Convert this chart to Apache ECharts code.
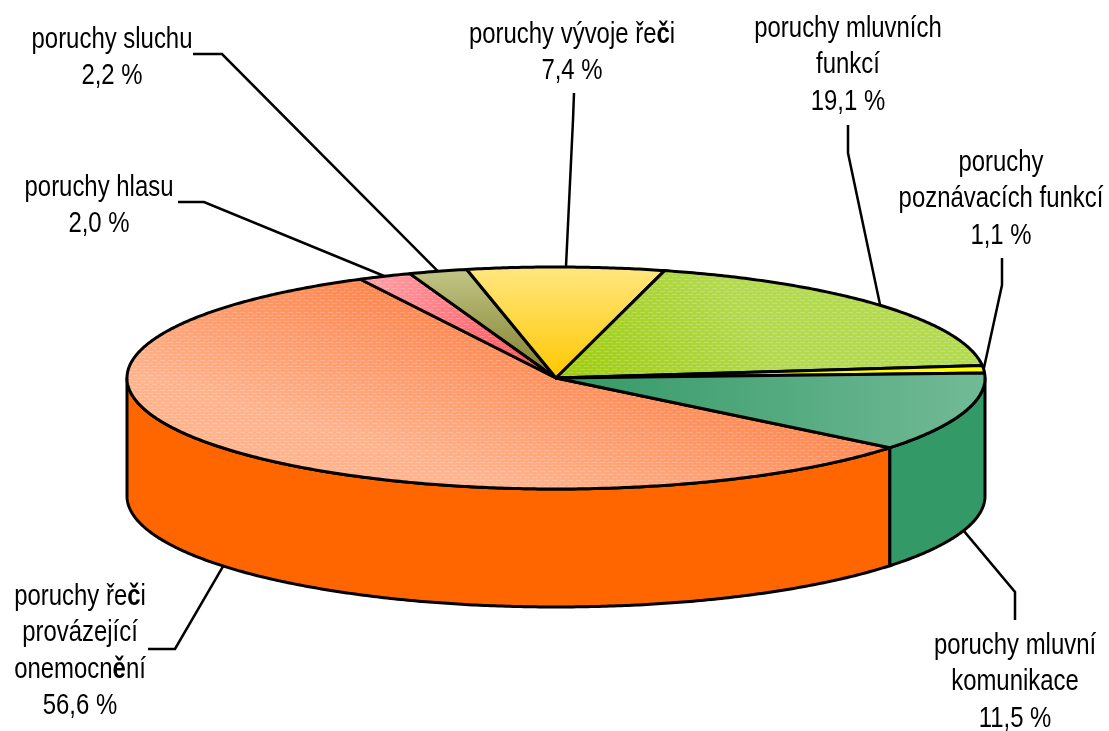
<!DOCTYPE html>
<html>
<head>
<meta charset="utf-8">
<style>
  html, body { margin: 0; background: #fff; }
  #chart { width: 1109px; height: 731px; }
</style>
<script src="https://cdn.jsdelivr.net/npm/echarts@6/dist/echarts.min.js"></script>
</head>
<body>
<div id="chart"></div>
<script>
// values, clockwise from the orange slice
const names = [
  "poruchy řeči\nprovázející\nonemocnění",
  "poruchy hlasu",
  "poruchy sluchu",
  "poruchy vývoje řeči",
  "poruchy mluvních\nfunkcí",
  "poruchy\npoznávacích funkcí",
  "poruchy mluvní\nkomunikace",
];
const values = [56.6, 2.0, 2.2, 7.4, 19.1, 1.1, 11.5];

// top face gradient [colour at start, colour at end], gradient direction in the slice's box, side colour
const topColors = [
  ["#ff7d42", "#ffb48e"],
  ["#ffa3aa", "#ff4a52"],
  ["#c2c585", "#7f7f2c"],
  ["#ffe680", "#ffc800"],
  ["#9fcc0c", "#b4da50"],
  ["#ffff00", "#ffff00"],
  ["#339966", "#72ba97"],
];
const topDirs = [
  [0.49, 0.05, 0.42, 0.9],
  [0, 0, 1, 1],
  [0, 0, 0, 1],
  [0, 0, 0, 1],
  [0, 1, 0.38, 0],
  [0, 0, 1, 0],
  [0, 0, 1, 0],
];
const sideColors = ["#ff6600", "#ff6666", "#808000", "#ffcc00", "#99cc00", "#ffff00", "#339966"];
const textured = [true, true, false, false, true, false, false];

// pie geometry
const cx = 556, cy = 378, rx = 429, ry = 111, depth = 118;
const startDeg = 128.9; // clockwise from 12 o'clock, where the first slice starts

// where each label sits: centre x, first line centre y, and the elbow of its leader
const labelX = [80, 99, 112, 572, 848, 1001, 1015];
const labelY = [595, 186, 38, 33, 27, 161, 644];
const elbows = [
  [[148, 649], [175, 649]],
  [[178, 202], [204, 202]],
  [[193, 54], [222, 54]],
  [[574, 93], [573, 120]],
  [[848, 125], [848, 153]],
  [[1002, 258], [1002, 285]],
  [[1015, 620], [1015, 592]],
];

const total = values.reduce((a, b) => a + b, 0);
const sliceStart = values.map((v, i) => startDeg + values.slice(0, i).reduce((a, b) => a + b, 0) / total * 360);
const sliceEnd = values.map((v, i) => sliceStart[i] + v / total * 360);

// faint staggered dashes on the textured slices
const dashes = document.createElement("canvas");
dashes.width = 8;
dashes.height = 6;
const dctx = dashes.getContext("2d");
dctx.fillStyle = "rgba(255,255,255,0.2)";
dctx.fillRect(0, 0, 5, 1);
dctx.fillRect(4, 3, 4, 1);
dctx.fillRect(0, 3, 1, 1);

// clockwise degrees from 12 o'clock -> point on the top ellipse
function rim(deg, dy) {
  const t = deg * Math.PI / 180;
  return [cx + rx * Math.sin(t), cy - ry * Math.cos(t) + (dy || 0)];
}
function arc(from, to, dy) {
  const pts = [];
  const n = Math.max(2, Math.ceil(Math.abs(to - from) * 2));
  for (let k = 0; k <= n; k++) pts.push(rim(from + (to - from) * k / n, dy));
  return pts;
}
function fmt(v) {
  return v.toFixed(1).replace(".", ",") + " %";
}

function bbox(pts) {
  const xs = pts.map((p) => p[0]), ys = pts.map((p) => p[1]);
  return [Math.min(...xs), Math.min(...ys), Math.max(...xs), Math.max(...ys)];
}

function renderSide(params) {
  const i = params.dataIndex;
  const children = [];
  // the wall only shows on the front half: 90..270 degrees clockwise
  for (const shift of [-360, 0, 360]) {
    const a = Math.max(sliceStart[i] + shift, 90);
    const b = Math.min(sliceEnd[i] + shift, 270);
    if (b <= a) continue;
    const pts = arc(a, b, 0).concat(arc(b, a, depth));
    children.push({
      type: "polygon",
      shape: { points: pts },
      style: { fill: sideColors[i], stroke: "#000", lineWidth: 3, lineJoin: "round" },
    });
  }
  return { type: "group", children };
}

function renderTop(params) {
  const i = params.dataIndex;
  const pts = [[cx, cy]].concat(arc(sliceStart[i], sliceEnd[i], 0));
  const bb = bbox(pts);
  const d = topDirs[i];
  const fill = new echarts.graphic.LinearGradient(
    bb[0] + d[0] * (bb[2] - bb[0]), bb[1] + d[1] * (bb[3] - bb[1]),
    bb[0] + d[2] * (bb[2] - bb[0]), bb[1] + d[3] * (bb[3] - bb[1]),
    [{ offset: 0, color: topColors[i][0] }, { offset: 1, color: topColors[i][1] }],
    true
  );
  return {
    type: "group",
    children: [
      { type: "polygon", shape: { points: pts }, style: { fill } },
      {
        type: "polygon",
        shape: { points: pts },
        style: {
          fill: textured[i] ? { image: dashes, repeat: "repeat" } : "none",
          stroke: "#000",
          lineWidth: 3,
          lineJoin: "round",
        },
      },
    ],
  };
}

function renderLabel(params) {
  const i = params.dataIndex;
  const mid = (((sliceStart[i] + sliceEnd[i]) / 2) % 360 + 360) % 360;
  const onFront = mid > 90 && mid < 270;
  const end = rim(mid, onFront ? depth : 0);
  const text = (names[i] + "\n" + fmt(values[i])).replace(/[čě]/g, "{b|$&}");
  return {
    type: "group",
    children: [
      {
        type: "polyline",
        shape: { points: elbows[i].concat([end]) },
        style: { fill: "none", stroke: "#000", lineWidth: 2.5 },
      },
      {
        type: "text",
        x: labelX[i],
        y: labelY[i] - 16.5,
        scaleX: 0.825,
        style: {
          text,
          align: "center",
          verticalAlign: "top",
          fill: "#000",
          font: '29px "Liberation Sans"',
          lineHeight: 36.5,
          rich: {
            b: { fontFamily: "Liberation Sans", fontSize: 29, fontWeight: "bold", lineHeight: 36.5, fill: "#000" },
          },
        },
      },
    ],
  };
}

const chart = echarts.init(document.getElementById("chart"), undefined, { renderer: "canvas" });
chart.setOption({
  animation: false,
  backgroundColor: "#fff",
  tooltip: { show: false },
  series: [
    { type: "custom", coordinateSystem: "none", renderItem: renderSide, data: values, z: 1, silent: true },
    { type: "custom", coordinateSystem: "none", renderItem: renderTop, data: values, z: 2, silent: true },
    { type: "custom", coordinateSystem: "none", renderItem: renderLabel, data: values, z: 3, silent: true },
  ],
});
</script>
</body>
</html>
